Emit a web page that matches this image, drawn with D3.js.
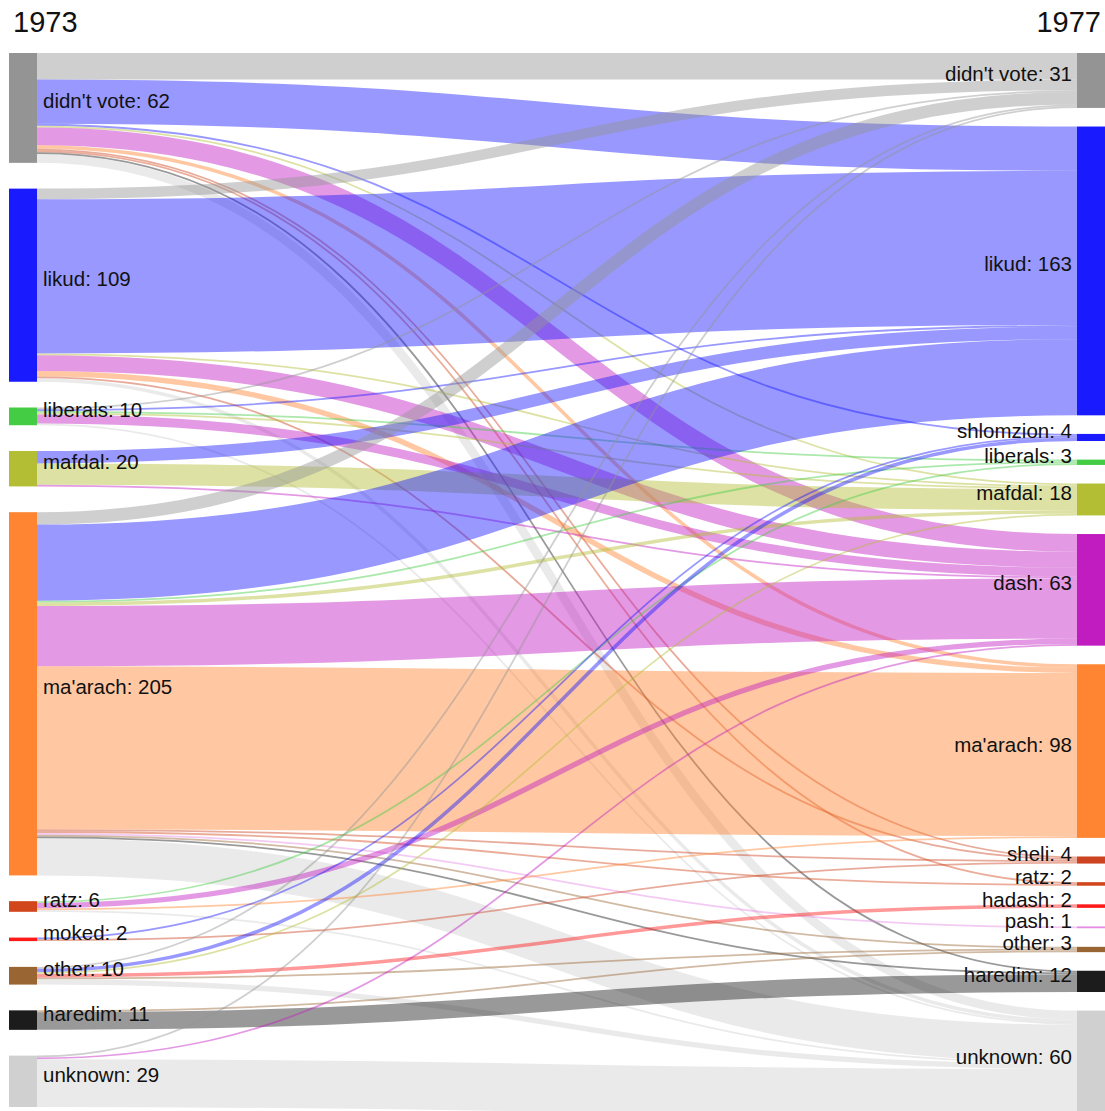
<!DOCTYPE html>
<html><head><meta charset="utf-8">
<script src="https://cdn.jsdelivr.net/npm/d3@7"></script>
<style>
body{margin:0;background:#fff}
svg{display:block}
text{font-family:"Liberation Sans",Arial,Helvetica,sans-serif;fill:#111}
</style>
</head><body>
<svg id="chart" width="1105" height="1111"></svg>
<script>
// ---------- data ----------
const years = ["1973", "1977"];
const leftNames  = ["didn't vote","likud","liberals","mafdal","ma'arach","ratz","moked","other","haredim","unknown"];
const leftValues = [62,109,10,20,205,6,2,10,11,29];
const rightNames  = ["didn't vote","likud","shlomzion","liberals","mafdal","dash","ma'arach","sheli","ratz","hadash","pash","other","haredim","unknown"];
const rightValues = [31,163,4,3,18,63,98,4,2,2,1,3,12,60];
// rows: 1973 party (leftNames order); columns: 1977 party (rightNames order)
const flowDidntVote = [15,25,1,0,1,10,2,1,1,0,0,0,1,5];
const flowLikud     = [6,87,0,0,1,9,3,1,0,0,0,0,0,2];
const flowLiberals  = [1,1,0,1,1,5,0,0,0,0,0,0,0,1];
const flowMafdal    = [0,7,0,0,12,1,0,0,0,0,0,0,0,0];
const flowMaarach   = [7,43,0,1,2,34,92,1,1,0,1,1,1,21];
const flowRatz      = [0,0,0,1,0,3,1,0,0,0,0,0,0,1];
const flowMoked     = [0,0,1,0,0,0,0,1,0,0,0,0,0,0];
const flowOther     = [1,0,2,0,1,0,0,0,0,2,0,1,0,3];
const flowHaredim   = [0,0,0,0,0,0,0,0,0,0,0,1,10,0];
const flowUnknown   = [1,0,0,0,0,1,0,0,0,0,0,0,0,27];
const flows = [flowDidntVote,flowLikud,flowLiberals,flowMafdal,flowMaarach,flowRatz,flowMoked,flowOther,flowHaredim,flowUnknown];

// ---------- style ----------
const palette = {
  "didn't vote":"#949494","likud":"#1a1aff","shlomzion":"#1a1aff","liberals":"#44cc44",
  "mafdal":"#b3be35","dash":"#c01cc0","ma'arach":"#ff8533","sheli":"#cc4422",
  "ratz":"#d2461c","moked":"#ff1a1a","hadash":"#ff1a1a","pash":"#e58ae5",
  "other":"#996633","haredim":"#1c1c1c","unknown":"#d0d0d0"
};
const W = 1105, H = 1111;
const yTop = 53, yBottom = 1107;
const nodeW = 28;
const xLeft = 9, xRight = W - nodeW;
const linkOpacity = 0.45;

const svg = d3.select("#chart");
const total = d3.sum(leftValues);
const span = yBottom - yTop;
const vScale = d3.scaleLinear().domain([0, total]).range([0, span * 0.78]);
const padLeft = (span - vScale(total)) / (leftNames.length - 1);
const padRight = 18.6;

function column(names, values, pad, x0) {
  let y = yTop;
  return names.map((n, i) => {
    const h = vScale(values[i]);
    const node = {name: n, value: values[i], x0, x1: x0 + nodeW, y0: y, y1: y + h};
    y += h + pad;
    return node;
  });
}
const L = column(leftNames, leftValues, padLeft, xLeft);
const R = column(rightNames, rightValues, padRight, xRight);

// links
const links = [];
flows.forEach((row, i) => row.forEach((v, j) => { if (v > 0) links.push({s: i, t: j, v}); }));
L.forEach((n, i) => {
  let y = n.y0;
  links.filter(l => l.s === i).sort((a, b) => a.t - b.t).forEach(l => {
    const w = vScale(l.v); l.w = w; l.ys = y + w / 2; y += w;
  });
});
R.forEach((n, j) => {
  let y = n.y0;
  links.filter(l => l.t === j).sort((a, b) => a.s - b.s).forEach(l => {
    const w = vScale(l.v); l.yt = y + w / 2; y += w;
  });
});

const linkGen = d3.linkHorizontal()
  .source(l => [L[l.s].x1, l.ys])
  .target(l => [R[l.t].x0, l.yt]);

svg.append("g").attr("fill", "none")
  .selectAll("path").data(links).join("path")
  .attr("d", linkGen)
  .attr("stroke", l => palette[rightNames[l.t]])
  .attr("stroke-opacity", linkOpacity)
  .attr("stroke-width", l => Math.max(1, l.w));

const nodes = L.concat(R);
svg.append("g").selectAll("rect").data(nodes).join("rect")
  .attr("x", d => d.x0).attr("y", d => d.y0)
  .attr("width", d => d.x1 - d.x0)
  .attr("height", d => Math.max(1, d.y1 - d.y0))
  .attr("fill", d => palette[d.name]);

svg.append("g").selectAll("text").data(L).join("text")
  .attr("x", d => d.x1 + 6).attr("y", d => (d.y0 + d.y1) / 2 + 0.5)
  .attr("font-size", "20.5px")
  .text(d => `${d.name}: ${d.value}`);
svg.append("g").selectAll("text").data(R).join("text")
  .attr("x", d => d.x0 - 5).attr("y", d => (d.y0 + d.y1) / 2 + 0.5)
  .attr("text-anchor", "end")
  .attr("font-size", "20.5px")
  .text(d => `${d.name}: ${d.value}`);

svg.append("text").attr("x", 13).attr("y", 32).attr("font-size", "29px").text(years[0]);
svg.append("text").attr("x", W - 4).attr("y", 32).attr("font-size", "29px")
  .attr("text-anchor", "end").text(years[1]);
</script>
</body></html>
